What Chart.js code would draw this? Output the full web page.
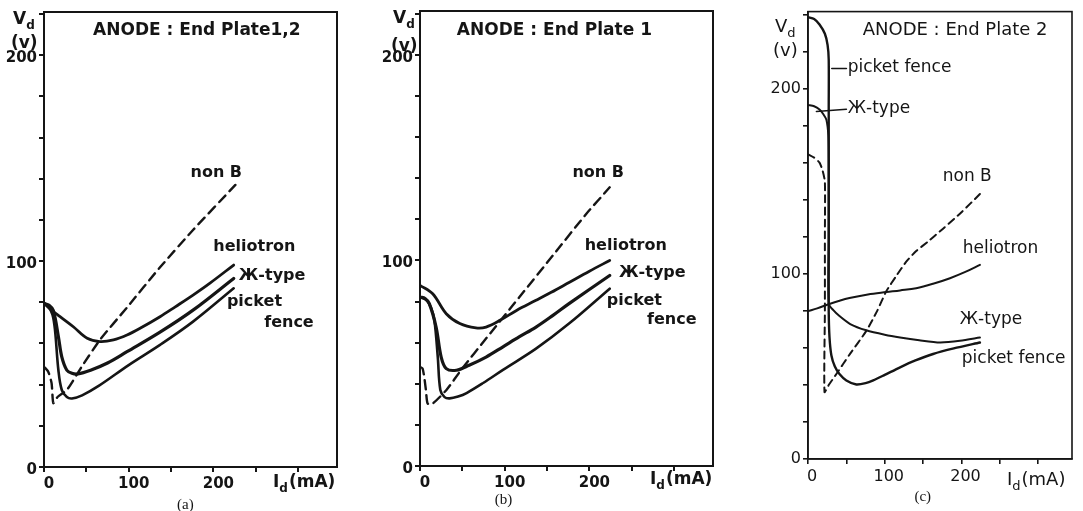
<!DOCTYPE html>
<html>
<head>
<meta charset="utf-8">
<script src="https://cdn.jsdelivr.net/npm/chart.js@4.4.1/dist/chart.umd.min.js"></script>
<style>
html,body{margin:0;padding:0;background:#fff;}
#wrap{position:relative;width:1083px;height:511px;overflow:hidden;background:#fff;}
canvas{position:absolute;top:0;}
</style>
</head>
<body>
<div id="wrap">
  <canvas id="pa" width="350" height="511" style="left:0px"></canvas>
  <canvas id="pb" width="360" height="511" style="left:360px"></canvas>
  <canvas id="pc" width="343" height="511" style="left:740px"></canvas>
</div>
<script>
// ================= DATA (I_d in mA, V_d in V) =================

const yTicks = [0, 100, 200];
const xTicks = [0, 100, 200];

// (a) ANODE : End Plate1,2
const aNonBI   = [0, 5, 9, 11, 16, 27, 45, 66, 98, 137, 176, 226];
const aNonBV   = [48.7, 46.3, 40.6, 31, 34, 37.4, 49, 61.7, 77.5, 97, 115.1, 137];
const aHelioI  = [0, 8, 19, 35, 51, 66, 82, 98, 114, 137, 155, 176, 196, 224];
const aHelioV  = [79.5, 76.5, 73, 68, 62.5, 60.9, 61.7, 64.1, 67.5, 73, 77.8, 83.5, 89.3, 98.1];
const aStarI   = [0, 6, 11, 17, 21, 27, 33, 40, 55, 75, 98, 137, 176, 224];
const aStarV   = [79.5, 78.5, 76, 63.3, 53.5, 47, 45.5, 45.2, 47, 50.5, 56, 65.5, 76.2, 91.6];
const aPicketI = [0, 5, 10, 13, 17, 21, 27, 33, 45, 65, 100, 137, 176, 224];
const aPicketV = [79.5, 78, 74, 66.5, 47, 37.4, 34, 33.3, 34.8, 39.5, 49.5, 59.3, 70.6, 86.8];

// (b) ANODE : End Plate 1
const bNonBI   = [0, 3, 5, 7, 9, 15, 31, 50, 78, 117, 157, 196, 224];
const bNonBV   = [48.2, 47.5, 43.3, 36.9, 30.4, 30.4, 36.9, 47.5, 62, 82, 102.5, 122.5, 135.6];
const bHelioI  = [0, 15, 31, 47, 66, 78, 95, 114, 137, 155, 176, 200, 224];
const bHelioV  = [87.9, 83.8, 74.1, 69.3, 67.2, 67.6, 71, 75.7, 80.6, 84.5, 89.3, 94.8, 100];
const bStarI   = [0, 6, 11, 19, 25, 31, 43, 58, 78, 98, 117, 137, 157, 176, 224];
const bStarV   = [82.2, 81.5, 79, 67.6, 53, 47.4, 46.6, 49, 53, 58, 62.8, 67.6, 73.3, 79, 92.7];
const bPicketI = [0, 8, 13, 17, 21, 24, 29, 35, 45, 55, 75, 98, 137, 176, 224];
const bPicketV = [82.2, 80.5, 77, 70.9, 53, 37, 33.5, 32.9, 33.8, 35.5, 40.5, 46.8, 57.1, 69.3, 86.3];

// (c) ANODE : End Plate 2
const cNonBI   = [0, 8, 15, 19, 22, 22, 22, 21.5, 27, 37, 55, 76, 90, 102, 115, 128, 141, 156, 176, 200, 224];
const cNonBV   = [164.8, 163, 160.3, 156, 150, 120, 80, 36.2, 40, 46, 57, 69.3, 80, 90.7, 99, 106.7, 112.5, 117.5, 124.6, 133.5, 143.3];
const cHelioI  = [0, 12, 26, 40, 54, 78, 102, 120, 141, 163, 185, 205, 224];
const cHelioV  = [80, 81.5, 83.6, 85.5, 87.1, 89, 90.3, 91.2, 92.4, 94.8, 97.8, 101.2, 105];
const cStarI   = [0, 8, 15, 20, 24, 26.5, 27, 27, 27, 33, 41, 55, 76, 100, 120, 145, 172, 198, 224];
const cStarV   = [191.5, 190.8, 189, 186.5, 183.5, 175, 160, 120, 84, 80.5, 77.3, 73, 69.6, 67.2, 65.7, 64.2, 63, 63.9, 65.7];
const cPicketI = [0, 8, 15, 22, 25.5, 27, 27, 27, 27, 27, 28, 30.5, 35, 41, 50, 63, 75, 85, 100, 120, 140, 163, 190, 224];
const cPicketV = [239, 238, 235, 230, 224, 216, 190, 150, 110, 80, 66, 56, 50, 46, 42.5, 40.3, 41, 42.5, 45.5, 49.6, 53.3, 56.8, 59.8, 63];
// leader lines to the labels at the top of (c)
const cLeadPicketI = [31, 50];
const cLeadPicketV = [211.2, 211.2];
const cLeadStarI   = [11, 50];
const cLeadStarV   = [188, 189.2];

// ================= DRAWING =================

const INK = "#151515";
const FONT = "'DejaVu Sans'";

function line(I, V, w, dash, t){
    return {
        data: I.map((x, i) => ({x: x, y: V[i]})),
        showLine: true, fill: false,
        borderColor: INK, borderWidth: w, borderDash: dash || [],
        borderCapStyle: "round", borderJoinStyle: "round",
        pointRadius: 0, tension: t === undefined ? 0.35 : t
    };
}

// text: V_d , I_d(mA) with subscripts
function subText(ctx, x, y, base, sub, rest, size, weight){
    ctx.textBaseline = "middle";
    ctx.textAlign = "left";
    ctx.font = weight + " " + size + "px " + FONT;
    ctx.fillText(base, x, y);
    let w = ctx.measureText(base).width;
    ctx.font = weight + " " + Math.round(size * 0.7) + "px " + FONT;
    ctx.fillText(sub, x + w, y + size * 0.35);
    w += ctx.measureText(sub).width;
    if(rest){
        ctx.font = weight + " " + size + "px " + FONT;
        ctx.fillText(rest, x + w + 1, y);
    }
}

function decor(p){
    return {
        id: "decor_" + p.id,
        afterDatasetsDraw(chart){
            const ctx = chart.ctx, a = chart.chartArea;
            const sx = chart.scales.x, sy = chart.scales.y;
            ctx.save();
            // frame
            ctx.strokeStyle = INK;
            ctx.lineWidth = p.frame;
            ctx.strokeRect(a.left, a.top, a.right - a.left, a.bottom - a.top);

            ctx.fillStyle = INK;
            ctx.textBaseline = "middle";
            ctx.textAlign = "left";
            // labels in the plot, placed in data units
            p.notes.forEach(n => {
                ctx.font = p.weight + " " + (n.size || p.size) + "px " + FONT;
                ctx.fillText(n.t, sx.getPixelForValue(n.x), sy.getPixelForValue(n.y));
            });
            // axis names
            subText(ctx, a.left + p.vName[0], a.top + p.vName[1], "V", "d", "", p.size + 1, p.weight);
            ctx.font = p.weight + " " + (p.size + 1) + "px " + FONT;
            ctx.fillText("(v)", a.left + p.vName[0] - 2, a.top + p.vName[2]);
            subText(ctx, a.right + p.iName[0], a.bottom + p.iName[1], "I", "d", "(mA)", p.size + 1, p.weight);
            // caption
            ctx.font = "15px 'Liberation Serif'";
            ctx.textAlign = "center";
            ctx.fillText(p.caption, sx.getPixelForValue(p.capX), a.bottom + p.capY);
            ctx.restore();
        }
    };
}

function makePanel(p){
    const tickFont = {family: "DejaVu Sans", size: p.tick, weight: p.weight};
    return new Chart(document.getElementById(p.id), {
        type: "scatter",
        data: {datasets: p.sets},
        options: {
            responsive: false,
            animation: false,
            events: [],
            layout: {padding: {top: p.top, right: p.right, left: 0, bottom: 0}},
            plugins: {legend: {display: false}, tooltip: {enabled: false}},
            scales: {
                x: {
                    type: "linear", min: 0, max: p.xMax,
                    afterFit: s => { s.height = 511 - p.bottom; },
                    ticks: {stepSize: 50, includeBounds: false, autoSkip: false, maxRotation: 0,
                        color: INK, font: tickFont, padding: 3, labelOffset: p.xOff,
                        callback: v => xTicks.includes(v) ? String(v) : ""},
                    grid: {drawOnChartArea: false, tickLength: 5, color: INK, lineWidth: p.frame},
                    border: {color: INK, width: p.frame}
                },
                y: {
                    type: "linear", min: 0, max: p.yMax,
                    afterFit: s => { s.width = p.yw; },
                    ticks: {stepSize: 20, includeBounds: false, autoSkip: false,
                        color: INK, font: tickFont, padding: 2, labelOffset: p.yOff,
                        callback: v => yTicks.includes(v) ? String(v) : ""},
                    grid: {drawOnChartArea: false, tickLength: 5, color: INK, lineWidth: p.frame},
                    border: {color: INK, width: p.frame}
                }
            }
        },
        plugins: [decor(p)]
    });
}

const DASH_AB = [9, 6];
const DASH_C = [7, 5];

makePanel({
    id: "pa", top: 12, right: 13, bottom: 467, yw: 44, xMax: 346, yMax: 221,
    frame: 2, weight: "bold", size: 16, tick: 15, xOff: 5, yOff: 3,
    sets: [
        line(aNonBI, aNonBV, 2.4, DASH_AB, 0.2),
        line(aHelioI, aHelioV, 2.8),
        line(aStarI, aStarV, 3.2),
        line(aPicketI, aPicketV, 2.6)
    ],
    notes: [
        {t: "ANODE : End Plate1,2", x: 58, y: 212, size: 17},
        {t: "non B", x: 173, y: 143},
        {t: "heliotron", x: 200, y: 107},
        {t: "Ж-type", x: 230, y: 93},
        {t: "picket", x: 216, y: 80},
        {t: "fence", x: 260, y: 70}
    ],
    vName: [-31, 8, 32], iName: [-64, 16], caption: "(a)", capX: 167, capY: 38
});

makePanel({
    id: "pb", top: 10, right: 7, bottom: 466, yw: 60, xMax: 346, yMax: 221.4,
    frame: 2, weight: "bold", size: 16, tick: 15, xOff: 5, yOff: 3,
    sets: [
        line(bNonBI, bNonBV, 2.4, DASH_AB, 0.2),
        line(bHelioI, bHelioV, 2.8),
        line(bStarI, bStarV, 3.2),
        line(bPicketI, bPicketV, 2.6)
    ],
    notes: [
        {t: "ANODE : End Plate 1", x: 43.5, y: 211.7, size: 17},
        {t: "non B", x: 180, y: 142.7},
        {t: "heliotron", x: 194.5, y: 107.3},
        {t: "Ж-type", x: 235, y: 94.2},
        {t: "picket", x: 220.6, y: 80.6},
        {t: "fence", x: 268, y: 70.9}
    ],
    vName: [-27, 8, 36], iName: [-63, 14], caption: "(b)", capX: 98.5, capY: 34
});

makePanel({
    id: "pc", top: 7, right: 11, bottom: 459, yw: 68, xMax: 344, yMax: 242,
    frame: 1.6, weight: "normal", size: 17, tick: 16, xOff: 4, yOff: 0,
    sets: [
        line(cNonBI, cNonBV, 2, DASH_C, 0.2),
        line(cHelioI, cHelioV, 2),
        line(cStarI, cStarV, 2, [], 0.25),
        line(cPicketI, cPicketV, 2.4, [], 0.25),
        line(cLeadPicketI, cLeadPicketV, 1.6, [], 0),
        line(cLeadStarI, cLeadStarV, 1.6, [], 0)
    ],
    notes: [
        {t: "ANODE : End Plate 2", x: 71.3, y: 232.1, size: 18},
        {t: "picket fence", x: 51.8, y: 211.7},
        {t: "Ж-type", x: 51.8, y: 189.7},
        {t: "non B", x: 175.6, y: 152.8},
        {t: "heliotron", x: 201.6, y: 113.7},
        {t: "Ж-type", x: 197.8, y: 75.2},
        {t: "picket fence", x: 200.4, y: 54.3}
    ],
    vName: [-33, 16, 40], iName: [-65, 21], caption: "(c)", capX: 149.5, capY: 38
});
</script>
</body>
</html>
